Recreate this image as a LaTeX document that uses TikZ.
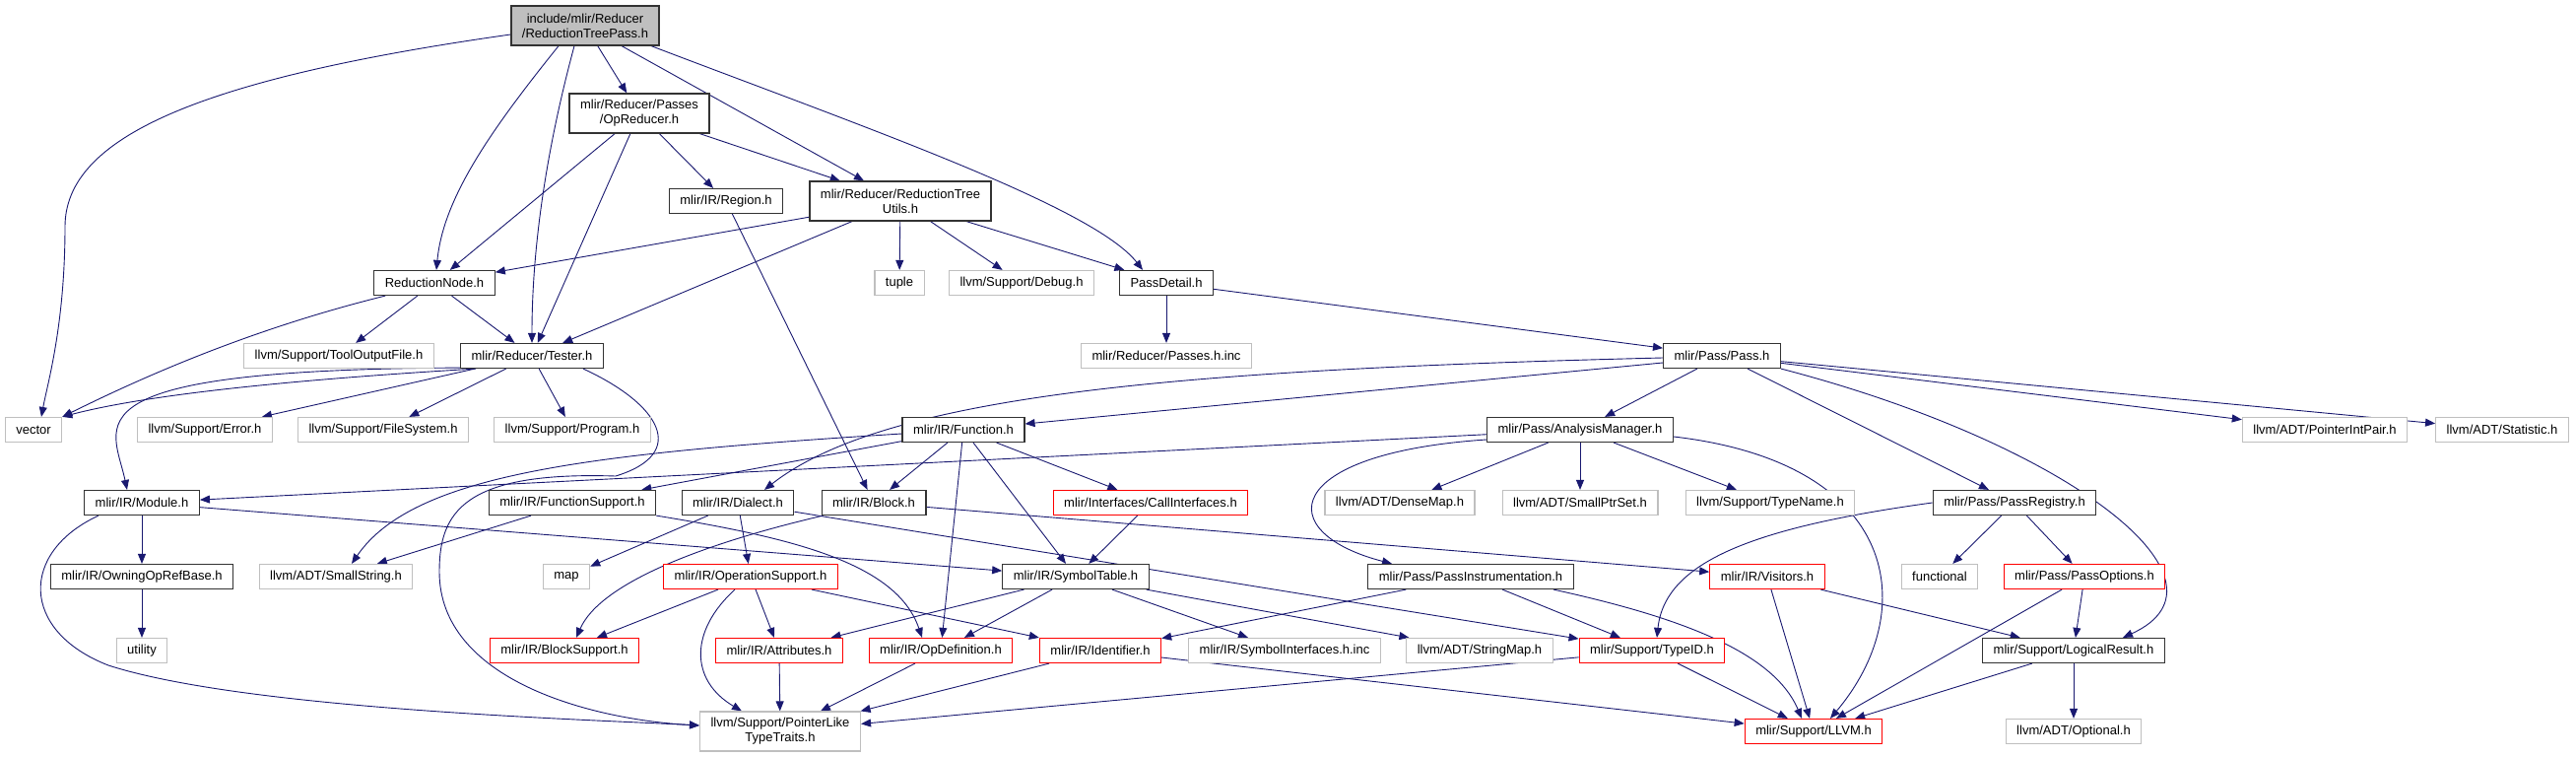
\documentclass[tikz,border=0pt]{standalone}
\usepackage{fontspec}
\setmainfont{Liberation Sans}
\usetikzlibrary{arrows.meta,backgrounds}

\definecolor{edgeblue}{RGB}{25,25,112}
\definecolor{sysgray}{RGB}{191,191,191}

\begin{document}
\begin{tikzpicture}[x=1pt, y=-1pt,
    hdrbox/.style={draw=black!80, line width=1.2pt, fill=white, minimum height=25pt, inner xsep=11pt, inner ysep=3pt, align=center, font=\fontsize{13}{15}\selectfont},
    sysbox/.style={hdrbox, draw=sysgray},
    redbox/.style={hdrbox, draw=red},
    rootbox/.style={hdrbox, fill=sysgray, minimum height=40pt},
    dep/.style={-{Triangle[length=10pt,width=8pt]}, edgeblue, line width=0.9pt}
]
\useasboundingbox (0,0) rectangle (2615,768);

% headers
\node[rootbox] (root) at (594,26) {include/mlir/Reducer\\/ReductionTreePass.h};
\node[hdrbox, minimum height=40pt] (opred) at (649,115) {mlir/Reducer/Passes\\/OpReducer.h};
\node[hdrbox] (region) at (737,204) {mlir/IR/Region.h};
\node[hdrbox, minimum height=40pt] (rtu) at (914,204) {mlir/Reducer/ReductionTree\\Utils.h};
\node[hdrbox] (rnode) at (441,287) {ReductionNode.h};
\node[sysbox] (tuple) at (913,287) {tuple};
\node[sysbox] (debug) at (1037,287) {llvm/Support/Debug.h};
\node[hdrbox] (pdetail) at (1184,287) {PassDetail.h};
\node[sysbox] (toolout) at (344,361) {llvm/Support/ToolOutputFile.h};
\node[hdrbox] (tester) at (540,361) {mlir/Reducer/Tester.h};
\node[sysbox] (passinc) at (1184,361) {mlir/Reducer/Passes.h.inc};
\node[hdrbox] (pass) at (1748,361) {mlir/Pass/Pass.h};

\node[sysbox] (vector) at (34,436) {vector};
\node[sysbox] (error) at (208,436) {llvm/Support/Error.h};
\node[sysbox] (filesys) at (389,436) {llvm/Support/FileSystem.h};
\node[sysbox] (program) at (581,436) {llvm/Support/Program.h};
\node[hdrbox] (function) at (978,436) {mlir/IR/Function.h};
\node[hdrbox] (anman) at (1604,436) {mlir/Pass/AnalysisManager.h};
\node[sysbox] (ptrint) at (2360,436) {llvm/ADT/PointerIntPair.h};
\node[sysbox] (statistic) at (2540,436) {llvm/ADT/Statistic.h};

\node[hdrbox] (module) at (144,510) {mlir/IR/Module.h};
\node[hdrbox] (funcsup) at (581,510) {mlir/IR/FunctionSupport.h};
\node[hdrbox] (dialect) at (749,510) {mlir/IR/Dialect.h};
\node[hdrbox] (block) at (887,510) {mlir/IR/Block.h};
\node[redbox] (callif) at (1168,510) {mlir/Interfaces/CallInterfaces.h};
\node[sysbox] (densemap) at (1421,510) {llvm/ADT/DenseMap.h};
\node[sysbox] (smallptr) at (1604,510) {llvm/ADT/SmallPtrSet.h};
\node[sysbox] (typename) at (1797,510) {llvm/Support/TypeName.h};
\node[hdrbox] (passreg) at (2045,510) {mlir/Pass/PassRegistry.h};

\node[hdrbox] (owning) at (144,585) {mlir/IR/OwningOpRefBase.h};
\node[sysbox] (smallstr) at (341,585) {llvm/ADT/SmallString.h};
\node[sysbox] (map) at (575,585) {map};
\node[redbox] (opsup) at (762,585) {mlir/IR/OperationSupport.h};
\node[hdrbox] (symtab) at (1092,585) {mlir/IR/SymbolTable.h};
\node[hdrbox] (passinst) at (1493,585) {mlir/Pass/PassInstrumentation.h};
\node[redbox] (visitors) at (1794,585) {mlir/IR/Visitors.h};
\node[sysbox] (functional) at (1969,585) {functional};
\node[redbox] (passopt) at (2116,585) {mlir/Pass/PassOptions.h};

\node[sysbox] (utility) at (144,660) {utility};
\node[redbox] (blocksup) at (573,660) {mlir/IR/BlockSupport.h};
\node[redbox] (attrs) at (791,660) {mlir/IR/Attributes.h};
\node[redbox] (opdef) at (955,660) {mlir/IR/OpDefinition.h};
\node[redbox] (ident) at (1117,660) {mlir/IR/Identifier.h};
\node[sysbox] (symif) at (1304,660) {mlir/IR/SymbolInterfaces.h.inc};
\node[sysbox] (strmap) at (1502,660) {llvm/ADT/StringMap.h};
\node[redbox] (typeid) at (1677,660) {mlir/Support/TypeID.h};
\node[hdrbox] (logres) at (2105,660) {mlir/Support/LogicalResult.h};

\node[sysbox, minimum height=40pt] (ptrlike) at (792,742) {llvm/Support/PointerLike\\TypeTraits.h};
\node[redbox] (llvm) at (1841,742) {mlir/Support/LLVM.h};
\node[sysbox] (optional) at (2105,742) {llvm/ADT/Optional.h};

\begin{scope}[on background layer]
% root
\draw[dep] ([yshift=-9pt]root.west) .. controls (200,80) and (66,140) .. (66,230) .. controls (66,330) and (48,390) .. ([xshift=8pt]vector.north);
\draw[dep] ([xshift=-27pt]root.south) .. controls (500,130) and (450,200) .. ([xshift=2pt]rnode.north);
\draw[dep] ([xshift=-11pt]root.south) .. controls (555,150) and (540,250) .. (tester.north);
\draw[dep] (root) -- (opred);
\draw[dep] (root) -- (rtu);
\draw[dep] ([xshift=67pt]root.south) .. controls (880,130) and (1110,210) .. ([xshift=-24pt]pdetail.north);
% reducer
\draw[dep] (opred) -- (rnode);
\draw[dep] (opred) -- (tester);
\draw[dep] (opred) -- (region);
\draw[dep] (opred) -- (rtu);
\draw[dep] (region) -- (block);
\draw[dep] (rtu) -- (rnode);
\draw[dep] (rtu) -- (tester);
\draw[dep] (rtu) -- (tuple);
\draw[dep] (rtu) -- (debug);
\draw[dep] (rtu) -- (pdetail);
\draw[dep] ([xshift=12pt]rnode.south west) .. controls (250,335) and (140,385) .. (vector.north east);
\draw[dep] (rnode) -- (toolout);
\draw[dep] (rnode) -- (tester);
\draw[dep] (pdetail) -- (passinc);
\draw[dep] (pdetail) -- (pass);
% tester
\draw[dep] ([xshift=16pt]tester.south west) .. controls (300,385) and (150,400) .. (vector.north east);
\draw[dep] ([yshift=1pt]tester.south west) .. controls (60,375) and (115,430) .. ([xshift=-15pt]module.north);
\draw[dep] (tester) -- (error);
\draw[dep] (tester) -- (filesys);
\draw[dep] (tester) -- (program);
\draw[dep] ([xshift=52pt]tester.south) .. controls (670,410) and (700,460) .. (625,483) .. controls (470,478) and (446,520) .. (446,580) .. controls (446,690) and (600,730) .. ([yshift=6pt]ptrlike.west);
% pass
\draw[dep] ([yshift=-7pt]pass.west) -- (function);
\draw[dep] ([yshift=-2pt]pass.west) .. controls (1200,375) and (900,400) .. ([xshift=27pt]dialect.north);
\draw[dep] (pass) -- (anman);
\draw[dep] (pass) -- (passreg);
\draw[dep] (pass) -- (ptrint);
\draw[dep] (pass) -- (statistic);
\draw[dep] (pass.south east) .. controls (2100,450) and (2280,590) .. ([xshift=50pt]logres.north);
% function
\draw[dep] ([yshift=-4pt]function.west) .. controls (600,460) and (420,480) .. ([xshift=16pt]smallstr.north);
\draw[dep] (function) -- (funcsup);
\draw[dep] (function) -- (block);
\draw[dep] (function) -- (opdef);
\draw[dep] (function) -- (symtab);
\draw[dep] (function) -- (callif);
% analysis manager
\draw[dep] (anman) -- (module);
\draw[dep] ([yshift=-10pt]anman.west) .. controls (1300,460) and (1290,540) .. ([xshift=-80pt]passinst.north);
\draw[dep] (anman) -- (densemap);
\draw[dep] (anman) -- (smallptr);
\draw[dep] (anman) -- (typename);
\draw[dep] ([yshift=-7pt]anman.east) .. controls (1930,470) and (1950,620) .. ([xshift=17pt]llvm.north);
% IR
\draw[dep] (module) -- (owning);
\draw[dep] ([xshift=-44pt]module.south) .. controls (20,560) and (20,640) .. (110,675) .. controls (250,720) and (600,730) .. ([yshift=6pt]ptrlike.west);
\draw[dep] (module) -- (symtab);
\draw[dep] (owning) -- (utility);
\draw[dep] (funcsup) -- (smallstr);
\draw[dep] (funcsup.south east) .. controls (800,545) and (910,570) .. ([xshift=-19pt]opdef.north);
\draw[dep] (dialect) -- (map);
\draw[dep] (dialect) -- (opsup);
\draw[dep] (dialect) -- (typeid);
\draw[dep] ([xshift=2pt]block.south west) .. controls (720,550) and (610,590) .. ([xshift=12pt]blocksup.north);
\draw[dep] (block) -- (visitors);
\draw[dep] (callif) -- (symtab);
\draw[dep] (opsup) -- (blocksup);
\draw[dep] (opsup) -- (attrs);
\draw[dep] ([xshift=-16pt]opsup.south) .. controls (700,640) and (700,690) .. ([xshift=-39pt]ptrlike.north);
\draw[dep] (opsup) -- (ident);
\draw[dep] (symtab) -- (attrs);
\draw[dep] (symtab) -- (opdef);
\draw[dep] (symtab) -- (symif);
\draw[dep] (symtab) -- (strmap);
\draw[dep] (attrs) -- (ptrlike);
\draw[dep] (opdef) -- (ptrlike);
\draw[dep] (ident) -- (ptrlike);
\draw[dep] (ident) -- (llvm);
\draw[dep] (typeid) -- (ptrlike);
\draw[dep] (typeid) -- (llvm);
% pass support
\draw[dep] (passinst) -- (ident);
\draw[dep] (passinst) -- (typeid);
\draw[dep] ([xshift=84pt]passinst.south) .. controls (1700,625) and (1800,660) .. ([xshift=-12pt]llvm.north);
\draw[dep] (visitors) -- (llvm);
\draw[dep] (visitors) -- (logres);
\draw[dep] (passreg.west) .. controls (1780,535) and (1690,570) .. ([xshift=5pt]typeid.north);
\draw[dep] (passreg) -- (functional);
\draw[dep] (passreg) -- (passopt);
\draw[dep] (passopt) -- (llvm);
\draw[dep] (passopt) -- (logres);
\draw[dep] (logres) -- (llvm);
\draw[dep] (logres) -- (optional);
\end{scope}
\end{tikzpicture}
\end{document}
